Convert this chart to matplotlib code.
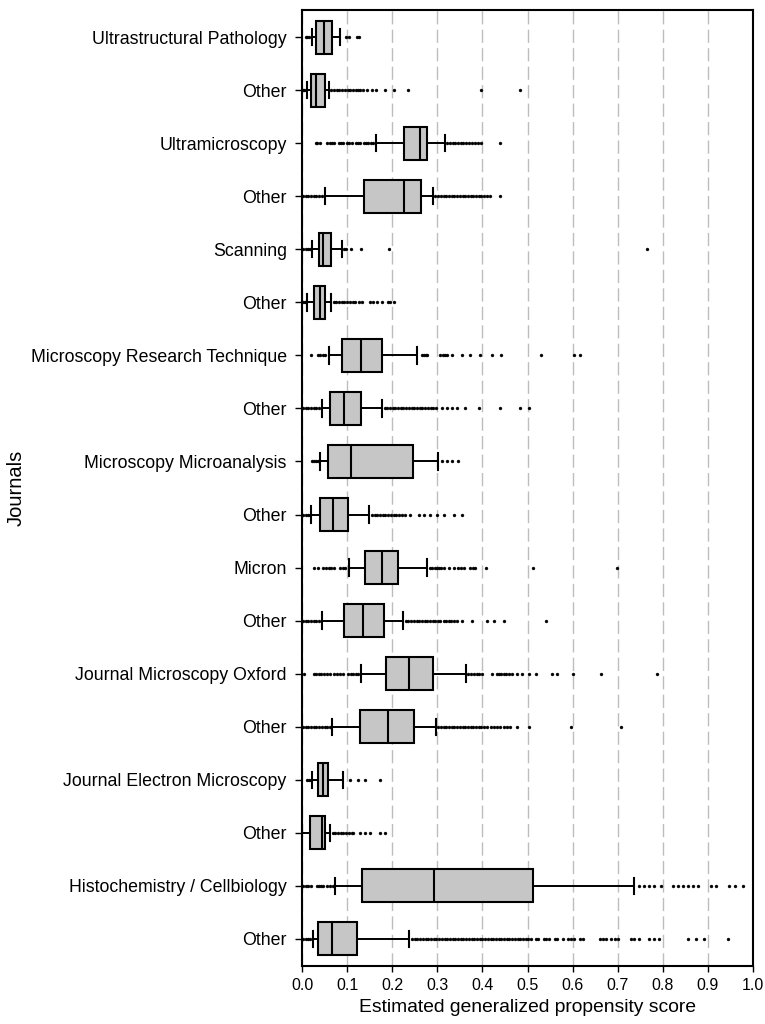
import matplotlib
matplotlib.use("Agg")
import matplotlib.pyplot as plt

plt.rcParams['font.family'] = ['Liberation Sans', 'DejaVu Sans']

journals = ["Ultrastructural Pathology", "Other", "Ultramicroscopy", "Other",
            "Scanning", "Other", "Microscopy Research Technique", "Other",
            "Microscopy Microanalysis", "Other", "Micron", "Other",
            "Journal Microscopy Oxford", "Other", "Journal Electron Microscopy",
            "Other", "Histochemistry / Cellbiology", "Other"]

q1 = [0.030, 0.020, 0.227, 0.138, 0.038, 0.027, 0.088, 0.062, 0.057,
      0.041, 0.140, 0.093, 0.187, 0.129, 0.036, 0.018, 0.133, 0.035]
med = [0.049, 0.030, 0.261, 0.227, 0.047, 0.040, 0.131, 0.094, 0.109,
       0.068, 0.177, 0.136, 0.238, 0.190, 0.046, 0.045, 0.293, 0.066]
q3 = [0.067, 0.050, 0.278, 0.264, 0.064, 0.050, 0.177, 0.131, 0.246,
      0.102, 0.213, 0.181, 0.290, 0.249, 0.058, 0.050, 0.513, 0.123]
p10 = [0.023, 0.010, 0.164, 0.051, 0.022, 0.012, 0.060, 0.044, 0.039,
       0.020, 0.104, 0.045, 0.131, 0.066, 0.023, 0.001, 0.073, 0.024]
p90 = [0.084, 0.059, 0.316, 0.290, 0.088, 0.064, 0.256, 0.177, 0.301,
       0.149, 0.277, 0.224, 0.363, 0.297, 0.090, 0.062, 0.736, 0.238]

fl_1 = [0.008, 0.012, 0.016, 0.097, 0.104, 0.122, 0.126]
fl_2 = [0.002, 0.005, 0.008, 0.065, 0.071, 0.077, 0.083, 0.089, 0.095, 0.101,
        0.107, 0.113, 0.119, 0.125, 0.129, 0.136, 0.145, 0.155, 0.164, 0.184,
        0.203, 0.236, 0.397, 0.484]
fl_3 = [0.030, 0.034, 0.039, 0.056, 0.061, 0.066, 0.072, 0.082, 0.087, 0.092,
        0.100, 0.105, 0.110, 0.119, 0.124, 0.129, 0.137, 0.142, 0.147, 0.152,
        0.157, 0.322, 0.328, 0.334, 0.340, 0.346, 0.352, 0.358, 0.364, 0.370,
        0.378, 0.384, 0.390, 0.396, 0.438]
fl_4 = [0.002, 0.008, 0.014, 0.020, 0.026, 0.032, 0.038, 0.044, 0.296, 0.302,
        0.308, 0.314, 0.320, 0.326, 0.332, 0.338, 0.344, 0.350, 0.356, 0.362,
        0.368, 0.374, 0.380, 0.386, 0.392, 0.398, 0.404, 0.410, 0.416, 0.438]
fl_5 = [0.003, 0.008, 0.013, 0.018, 0.093, 0.097, 0.109, 0.130, 0.192, 0.764]
fl_6 = [0.002, 0.006, 0.009, 0.070, 0.076, 0.082, 0.088, 0.094, 0.100, 0.106,
        0.112, 0.118, 0.126, 0.133, 0.151, 0.158, 0.166, 0.177, 0.190, 0.196,
        0.203]
fl_7 = [0.019, 0.036, 0.041, 0.046, 0.051, 0.266, 0.270, 0.274, 0.277, 0.307,
        0.312, 0.317, 0.321, 0.333, 0.355, 0.373, 0.394, 0.421, 0.441, 0.529,
        0.603, 0.616]
fl_8 = [0.002, 0.008, 0.014, 0.020, 0.026, 0.032, 0.038, 0.183, 0.189, 0.195,
        0.201, 0.207, 0.213, 0.219, 0.225, 0.231, 0.237, 0.243, 0.249, 0.255,
        0.261, 0.267, 0.273, 0.279, 0.285, 0.291, 0.297, 0.310, 0.321, 0.333,
        0.344, 0.362, 0.393, 0.438, 0.483, 0.503]
fl_9 = [0.022, 0.027, 0.031, 0.035, 0.310, 0.321, 0.333, 0.347]
fl_10 = [0.003, 0.008, 0.013, 0.017, 0.155, 0.161, 0.167, 0.173, 0.179, 0.185,
         0.191, 0.197, 0.203, 0.209, 0.215, 0.221, 0.229, 0.240, 0.259, 0.270,
         0.284, 0.299, 0.314, 0.336, 0.355]
fl_11 = [0.027, 0.036, 0.047, 0.053, 0.059, 0.065, 0.071, 0.084, 0.090, 0.096,
         0.284, 0.289, 0.294, 0.299, 0.304, 0.309, 0.314, 0.325, 0.336, 0.347,
         0.353, 0.359, 0.373, 0.379, 0.384, 0.407, 0.512, 0.699]
fl_12 = [0.002, 0.008, 0.014, 0.020, 0.026, 0.032, 0.038, 0.230, 0.236, 0.242,
         0.248, 0.254, 0.260, 0.266, 0.272, 0.278, 0.284, 0.290, 0.296, 0.302,
         0.307, 0.314, 0.320, 0.325, 0.331, 0.336, 0.344, 0.355, 0.377, 0.410,
         0.425, 0.447, 0.542]
fl_13 = [0.004, 0.026, 0.031, 0.037, 0.043, 0.048, 0.056, 0.062, 0.070, 0.077,
         0.085, 0.092, 0.103, 0.108, 0.113, 0.119, 0.124, 0.369, 0.375, 0.381,
         0.387, 0.393, 0.399, 0.421, 0.432, 0.437, 0.442, 0.447, 0.452, 0.458,
         0.466, 0.477, 0.488, 0.503, 0.518, 0.555, 0.566, 0.601, 0.662, 0.788]
fl_14 = [0.002, 0.008, 0.014, 0.020, 0.026, 0.032, 0.038, 0.044, 0.050, 0.056,
         0.062, 0.302, 0.308, 0.314, 0.320, 0.326, 0.332, 0.338, 0.344, 0.350,
         0.356, 0.362, 0.368, 0.374, 0.380, 0.386, 0.392, 0.398, 0.404, 0.410,
         0.418, 0.425, 0.432, 0.440, 0.447, 0.455, 0.462, 0.477, 0.503, 0.596,
         0.708]
fl_15 = [0.011, 0.015, 0.019, 0.107, 0.125, 0.140, 0.172]
fl_16 = [0.068, 0.074, 0.080, 0.086, 0.092, 0.098, 0.104, 0.110, 0.114, 0.129,
         0.140, 0.151, 0.173, 0.184]
fl_17 = [0.003, 0.008, 0.014, 0.021, 0.033, 0.038, 0.043, 0.047, 0.055, 0.062,
         0.068, 0.748, 0.759, 0.770, 0.781, 0.796, 0.822, 0.833, 0.844, 0.855,
         0.866, 0.877, 0.907, 0.918, 0.947, 0.959, 0.977]
fl_18 = [0.003, 0.008, 0.013, 0.018, 0.244, 0.250, 0.256, 0.262, 0.268, 0.274,
         0.280, 0.286, 0.292, 0.298, 0.304, 0.310, 0.316, 0.322, 0.328, 0.334,
         0.340, 0.346, 0.352, 0.358, 0.364, 0.370, 0.376, 0.382, 0.388, 0.394,
         0.400, 0.406, 0.412, 0.418, 0.424, 0.430, 0.436, 0.442, 0.448, 0.454,
         0.460, 0.466, 0.472, 0.478, 0.484, 0.490, 0.496, 0.502, 0.508, 0.518,
         0.524, 0.536, 0.542, 0.548, 0.560, 0.566, 0.578, 0.590, 0.596, 0.602,
         0.616, 0.622, 0.660, 0.668, 0.675, 0.686, 0.693, 0.700, 0.729, 0.737,
         0.747, 0.770, 0.781, 0.792, 0.855, 0.874, 0.892, 0.944]

fliers = [fl_1, fl_2, fl_3, fl_4, fl_5, fl_6, fl_7, fl_8, fl_9, fl_10, fl_11,
          fl_12, fl_13, fl_14, fl_15, fl_16, fl_17, fl_18]

xticks = [0.0, 0.1, 0.2, 0.3, 0.4, 0.5, 0.6, 0.7, 0.8, 0.9, 1.0]
xtick_labels = ["0.0", "0.1", "0.2", "0.3", "0.4", "0.5", "0.6", "0.7", "0.8", "0.9", "1.0"]

stats = []
for i in range(len(journals)):
    stats.append(dict(label=journals[i], q1=q1[i], med=med[i], q3=q3[i],
                      whislo=p10[i], whishi=p90[i], fliers=fliers[i]))

fig = plt.figure(figsize=(7.65, 10.24), dpi=100)
ax = fig.add_axes([302 / 765, 1 - 966 / 1024, 451 / 765, 956 / 1024])

positions = list(range(1, len(journals) + 1))
ax.bxp(stats, positions=positions, widths=0.62, orientation='horizontal',
       patch_artist=True, showfliers=True,
       boxprops=dict(facecolor='#c6c6c6', edgecolor='black', linewidth=1.5),
       medianprops=dict(color='black', linewidth=1.5),
       whiskerprops=dict(color='black', linewidth=1.4),
       capprops=dict(color='black', linewidth=1.5),
       flierprops=dict(marker='o', markersize=2.1, markerfacecolor='black',
                       markeredgecolor='black', markeredgewidth=0.3,
                       linestyle='none'))

ax.set_xlim(0, 1.0)
ax.set_ylim(18.51, 0.49)
ax.set_xticks(xticks)
ax.set_xticklabels(xtick_labels, fontsize=11.5)
ax.set_yticks(positions)
ax.set_yticklabels(journals, fontsize=12.8)

ax.set_axisbelow(True)
ax.xaxis.grid(True, color='#bdbdbd', linestyle=(0, (9.5, 3.8)), linewidth=1.0)
ax.yaxis.grid(False)

ax.tick_params(axis='y', direction='out', length=5, width=1.0, pad=6)
ax.tick_params(axis='x', direction='out', length=4, width=1.0, pad=5)
for sp in ax.spines.values():
    sp.set_linewidth(1.5)
    sp.set_color('black')

ax.set_xlabel("Estimated generalized propensity score", fontsize=13.9)
ax.xaxis.set_label_coords(0.5, -0.034)
ax.xaxis.label.set_verticalalignment('top')
ax.set_ylabel("Journals", fontsize=14.5)
ax.yaxis.set_label_coords(-0.613, 0.5)

fig.savefig("out.png", dpi=100)
